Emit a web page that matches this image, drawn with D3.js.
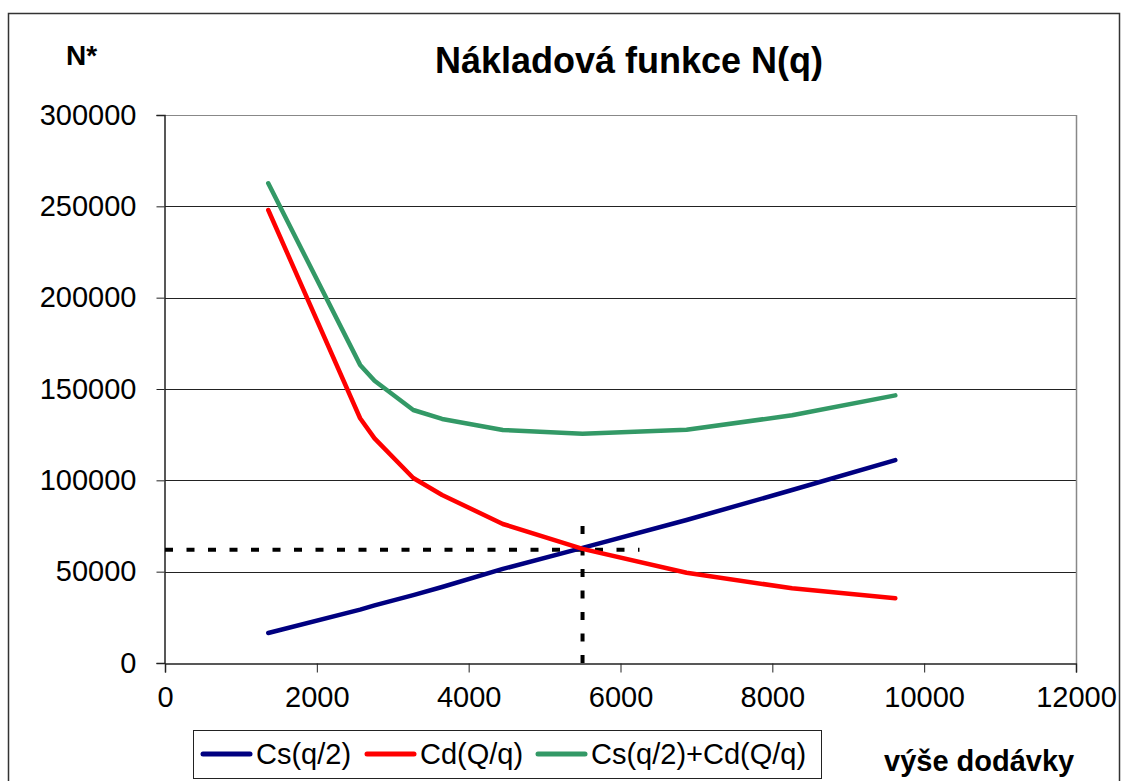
<!DOCTYPE html>
<html>
<head>
<meta charset="utf-8">
<script src="https://cdn.jsdelivr.net/npm/d3@7"></script>
<style>
  html, body { margin: 0; padding: 0; background: #fff; }
  svg { display: block; font-family: Arial, "Liberation Sans", sans-serif; }
</style>
</head>
<body>
<div id="chart"></div>
<script>
// q values (výše dodávky)
const qValues = [1360, 2570, 2760, 3270, 3650, 4450, 5500, 6870, 8260, 9620];
// Cs(q/2) – skladovací náklady
const csValues = [16400, 29200, 31500, 37200, 41600, 51500, 63000, 78300, 94700, 111100];
// Cd(Q/q) – objednávací náklady
const cdValues = [248000, 134000, 123000, 101300, 92000, 76100, 62500, 49400, 40900, 35400];
// Cs(q/2)+Cd(Q/q)
const totalValues = [262600, 163200, 154500, 138500, 133600, 127600, 125500, 127700, 135600, 146500];

const seriesNames = ["Cs(q/2)", "Cd(Q/q)", "Cs(q/2)+Cd(Q/q)"];
const seriesColors = ["#000080", "#ff0000", "#339966"];
const xTicks = [0, 2000, 4000, 6000, 8000, 10000, 12000];
const yTicks = [0, 50000, 100000, 150000, 200000, 250000, 300000];
const optimumQ = 5500;
const optimumN = 62000;
const hLineEndQ = 6250;

const W = 1122, H = 781;
const plot = { left: 165, right: 1076, top: 115, bottom: 663 };

const svg = d3.select("#chart").append("svg")
  .attr("width", W).attr("height", H);

// outer chart frame
svg.append("rect")
  .attr("x", 8.5).attr("y", 13.5)
  .attr("width", 1111).attr("height", 800)
  .attr("fill", "none").attr("stroke", "#333").attr("stroke-width", 1.5);

const x = d3.scaleLinear().domain([0, 12000]).range([plot.left, plot.right]);
const y = d3.scaleLinear().domain([0, 300000]).range([plot.bottom, plot.top]);

// gridlines
svg.append("g")
  .selectAll("line")
  .data(yTicks.filter(d => d > 0))
  .join("line")
  .attr("x1", plot.left).attr("x2", plot.right)
  .attr("y1", d => Math.round(y(d)) + 0.5).attr("y2", d => Math.round(y(d)) + 0.5)
  .attr("stroke", d => d === 300000 ? "#888" : "#222")
  .attr("stroke-width", 1);

// plot border right
svg.append("line")
  .attr("x1", plot.right + 0.5).attr("x2", plot.right + 0.5)
  .attr("y1", plot.top).attr("y2", plot.bottom)
  .attr("stroke", "#888").attr("stroke-width", 1.5);

// y axis
const yAxis = svg.append("g")
  .attr("transform", `translate(${plot.left - 0.5},0)`)
  .call(d3.axisLeft(y).tickValues(yTicks).tickSize(8).tickPadding(20).tickFormat(d3.format("d")));
yAxis.select(".domain").attr("stroke", "#222").attr("stroke-width", 1.5);
yAxis.selectAll(".tick line").attr("stroke", "#222");
yAxis.selectAll("text")
  .attr("font-size", 29).attr("fill", "#000")
  .attr("font-family", "Arial, 'Liberation Sans', sans-serif");

// x axis
const xAxis = svg.append("g")
  .attr("transform", `translate(0,${plot.bottom + 0.5})`)
  .call(d3.axisBottom(x).tickValues(xTicks).tickSize(9).tickPadding(14).tickFormat(d3.format("d")));
xAxis.select(".domain").attr("stroke", "#222").attr("stroke-width", 1.5);
xAxis.selectAll(".tick line").attr("stroke", "#222");
xAxis.selectAll("text")
  .attr("font-size", 29).attr("fill", "#000")
  .attr("font-family", "Arial, 'Liberation Sans', sans-serif");

// dashed guide lines at optimum
svg.append("line")
  .attr("x1", x(0)).attr("x2", x(hLineEndQ))
  .attr("y1", y(optimumN)).attr("y2", y(optimumN))
  .attr("stroke", "#000").attr("stroke-width", 4)
  .attr("stroke-dasharray", "8 13.5");
svg.append("line")
  .attr("x1", x(optimumQ)).attr("x2", x(optimumQ))
  .attr("y1", y(0)).attr("y2", y(optimumN) - 28)
  .attr("stroke", "#000").attr("stroke-width", 4)
  .attr("stroke-dasharray", "8 13.5");

// series lines
const allSeries = [csValues, cdValues, totalValues];
const line = d3.line()
  .x((d, i) => x(qValues[i]))
  .y(d => y(d));

allSeries.forEach((vals, k) => {
  svg.append("path")
    .datum(vals)
    .attr("fill", "none")
    .attr("stroke", seriesColors[k])
    .attr("stroke-width", 4.5)
    .attr("stroke-linejoin", "round")
    .attr("stroke-linecap", "round")
    .attr("d", line);
});

// titles
svg.append("text")
  .attr("x", 629).attr("y", 73)
  .attr("text-anchor", "middle")
  .attr("font-size", 36).attr("font-weight", "bold")
  .text("Nákladová funkce N(q)");

svg.append("text")
  .attr("x", 66).attr("y", 65)
  .attr("font-size", 28).attr("font-weight", "bold")
  .text("N*");

svg.append("text")
  .attr("x", 884).attr("y", 771)
  .attr("font-size", 29).attr("font-weight", "bold")
  .text("výše dodávky");

// legend
const legend = svg.append("g");
legend.append("rect")
  .attr("x", 193.5).attr("y", 730.5)
  .attr("width", 628).attr("height", 48)
  .attr("fill", "#fff").attr("stroke", "#222").attr("stroke-width", 1);

const legendX = [203, 367, 538];
seriesNames.forEach((name, k) => {
  legend.append("line")
    .attr("x1", legendX[k]).attr("x2", legendX[k] + 47)
    .attr("y1", 754).attr("y2", 754)
    .attr("stroke", seriesColors[k]).attr("stroke-width", 5)
    .attr("stroke-linecap", "round");
  legend.append("text")
    .attr("x", legendX[k] + 53).attr("y", 764)
    .attr("font-size", 29)
    .text(name);
});
</script>
</body>
</html>
